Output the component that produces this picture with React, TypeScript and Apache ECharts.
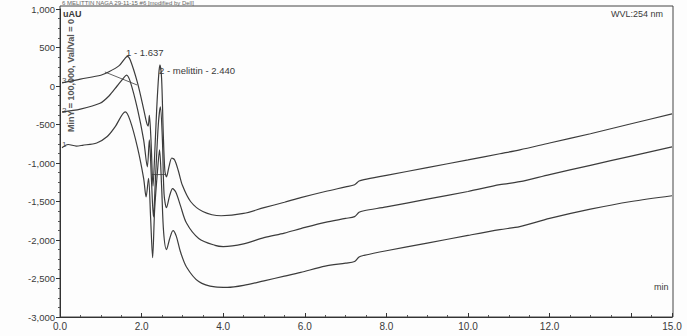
import React, { useEffect, useRef } from "react";
import * as echarts from "echarts";

// Retention time (min) / signal (uAU) pairs
const trace3: [number, number][] = [
  [0.05, 40], [0.5, 90], [1.0, 140], [1.2, 185], [1.45, 265], [1.58, 350], [1.65, 385],
  [1.72, 340], [1.9, 40], [2.05, -300], [2.12, -470], [2.16, -520], [2.19, -380],
  [2.23, -700], [2.28, -1300], [2.32, -900], [2.37, -300], [2.42, 150], [2.45, 275],
  [2.49, 100], [2.53, -600], [2.57, -1100], [2.61, -1180], [2.67, -1050], [2.74, -935],
  [2.81, -960], [2.9, -1100], [3.0, -1290], [3.2, -1500], [3.5, -1630], [3.95, -1685],
  [4.5, -1655], [5.0, -1580], [5.5, -1510], [5.9, -1450], [6.5, -1370], [7.0, -1310],
  [7.22, -1282], [7.33, -1235], [7.45, -1215], [8.0, -1160], [9.0, -1060], [10.0, -960],
  [10.78, -880], [11.27, -829], [12.0, -740], [13.0, -620], [14.0, -490], [15.0, -363],
];
const trace2: [number, number][] = [
  [0.05, -337], [0.5, -300], [0.98, -225], [1.2, -130], [1.4, 0], [1.55, 100], [1.63, 142],
  [1.72, 60], [1.9, -300], [2.05, -700], [2.14, -1050], [2.19, -700], [2.24, -1200],
  [2.29, -1700], [2.34, -1200], [2.41, -500], [2.46, -270], [2.51, -700], [2.55, -1400],
  [2.61, -1580], [2.69, -1420], [2.76, -1334], [2.84, -1380], [2.95, -1550], [3.1, -1780],
  [3.4, -1980], [3.8, -2070], [4.0, -2085], [4.5, -2050], [5.0, -1970], [5.5, -1910],
  [5.9, -1852], [6.5, -1770], [7.0, -1720], [7.22, -1696], [7.33, -1640], [7.45, -1620],
  [8.0, -1570], [9.0, -1470], [10.0, -1370], [10.78, -1282], [11.27, -1243], [12.0, -1150],
  [13.0, -1030], [14.0, -910], [15.0, -790],
];
const trace1: [number, number][] = [
  [0.05, -803], [0.2, -760], [0.4, -780], [0.55, -770], [0.9, -740], [1.15, -660],
  [1.35, -530], [1.6, -337], [1.72, -450], [1.9, -800], [2.05, -1200], [2.11, -1440],
  [2.17, -1200], [2.22, -1700], [2.27, -2230], [2.32, -1600], [2.39, -1100], [2.44, -830],
  [2.49, -1300], [2.54, -1900], [2.61, -2124], [2.69, -1980], [2.77, -1878], [2.85, -1950],
  [2.95, -2150], [3.1, -2350], [3.4, -2540], [3.8, -2610], [4.1, -2616], [4.5, -2590],
  [5.0, -2530], [5.5, -2470], [5.9, -2421], [6.5, -2340], [7.0, -2300], [7.22, -2279],
  [7.33, -2220], [7.45, -2200], [8.0, -2140], [9.0, -2040], [10.0, -1940], [10.78, -1865],
  [11.27, -1826], [12.0, -1720], [13.0, -1600], [14.0, -1500], [15.0, -1425],
];
const baseline1: [number, number][] = [[1.1, 182], [1.89, 13]];
const baseline2: [number, number][] = [[2.25, -1150], [2.58, -1150]];
const peakLabels = ["1 - 1.637", "2 - melittin - 2.440"];
const traceNames = ["1", "2", "3"];

const LINE = "#3c3c3c";
const TXT = "#3a3a3a";
const FONT = "Arial, 'Liberation Sans', sans-serif";

export default function App() {
  const ref = useRef<HTMLDivElement>(null);
  useEffect(() => {
    if (!ref.current) return;
    const chart = echarts.init(ref.current, undefined, { renderer: "svg" });
    const lineSeries = (data: [number, number][], w = 1.2, smooth: number | boolean = 0.3) => ({
      type: "line",
      data,
      showSymbol: false,
      symbol: "none",
      smooth,
      lineStyle: { color: LINE, width: w },
      silent: true,
    });
    chart.setOption({
      animation: false,
      backgroundColor: "#fdfdfd",
      grid: { left: 60, right: 15, top: 9, bottom: 19, containLabel: false },
      xAxis: {
        type: "value",
        min: 0,
        max: 15,
        interval: 2,
        axisLine: { show: true, onZero: false, lineStyle: { color: "#333", width: 1 } },
        axisTick: { show: true, inside: true, length: 4, lineStyle: { color: "#333" } },
        minorTick: { show: true, splitNumber: 4, length: 2, lineStyle: { color: "#555" } },
        splitLine: { show: false },
        axisLabel: {
          color: TXT,
          fontSize: 10,
          fontFamily: FONT,
          margin: 4,
          formatter: (v: number) => (v === 14 ? "" : v.toFixed(1)),
        },
      },
      yAxis: {
        type: "value",
        min: -3000,
        max: 1000,
        interval: 500,
        axisLine: { show: true, onZero: false, lineStyle: { color: "#333", width: 1 } },
        axisTick: { show: true, length: 4, lineStyle: { color: "#333" } },
        minorTick: { show: true, splitNumber: 4, length: 2, lineStyle: { color: "#555" } },
        splitLine: { show: false },
        axisLabel: {
          color: TXT,
          fontSize: 9.5,
          fontFamily: FONT,
          margin: 5,
          formatter: (v: number) => v.toLocaleString("en-US"),
        },
      },
      series: [
        lineSeries(trace1),
        lineSeries(trace2),
        lineSeries(trace3),
        lineSeries(baseline1, 0.8, false),
        lineSeries(baseline2, 0.8, false),
      ],
      graphic: [
        {
          type: "rect",
          shape: { x: 60, y: 6, width: 613, height: 311 },
          style: { fill: "none", stroke: "#444", lineWidth: 1 },
          silent: true,
        },
        {
          type: "text",
          x: 62,
          y: 0,
          style: { text: "6 MELITTIN NAGA 29-11-15 #6 [modified by Dell]", font: `6px ${FONT}`, fill: "#666" },
        },
        {
          type: "text",
          x: 611,
          y: 9,
          style: { text: "WVL:254 nm", font: `9px ${FONT}`, fill: TXT },
        },
        {
          type: "text",
          x: 63,
          y: 9,
          style: { text: "uAU", font: `bold 9px ${FONT}`, fill: TXT },
        },
        {
          type: "text",
          x: 654,
          y: 282,
          style: { text: "min", font: `9px ${FONT}`, fill: TXT },
        },
        {
          type: "text",
          x: 66,
          y: 132,
          rotation: Math.PI / 2,
          style: { text: "MinY = 100,000, Val/Val = 0", font: `bold 9px ${FONT}`, fill: "#555" },
        },
        {
          type: "text",
          x: 126,
          y: 47,
          style: { text: peakLabels[0], font: `9.5px ${FONT}`, fill: TXT },
        },
        {
          type: "text",
          x: 159,
          y: 65,
          style: { text: peakLabels[1], font: `9.5px ${FONT}`, fill: TXT },
        },
        {
          type: "text",
          x: 62,
          y: 140,
          style: { text: traceNames[0], font: `8px ${FONT}`, fill: "#555" },
        },
        {
          type: "text",
          x: 62,
          y: 106,
          style: { text: traceNames[1], font: `8px ${FONT}`, fill: "#555" },
        },
        {
          type: "text",
          x: 62,
          y: 76,
          style: { text: traceNames[2], font: `8px ${FONT}`, fill: "#555" },
        },
      ],
    });
    return () => chart.dispose();
  }, []);
  return <div ref={ref} style={{ width: 687, height: 336, position: "absolute", left: 0, top: 0 }} />;
}
